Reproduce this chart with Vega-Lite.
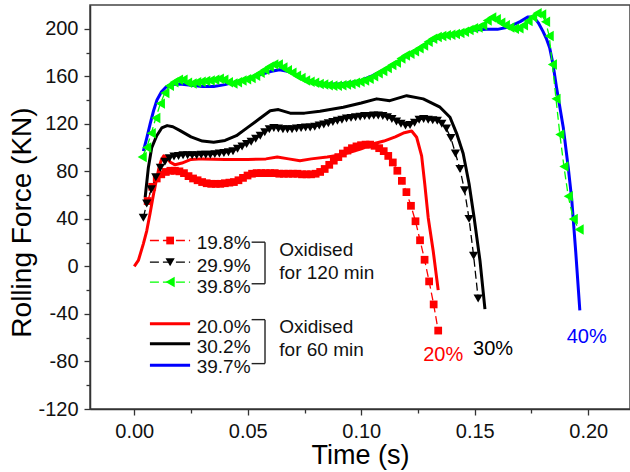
{
  "$schema": "https://vega.github.io/schema/vega-lite/v6.json",
  "width": 540,
  "height": 404,
  "autosize": {"type": "none"},
  "padding": {"left": 90, "top": 5, "right": 0, "bottom": 63},
  "background": "white",
  "config": {
    "font": "Liberation Sans",
    "view": {"stroke": "#444", "strokeWidth": 1.5},
    "axis": {"grid": false, "domainColor": "#333", "domainWidth": 1.5, "tickColor": "#333", "tickWidth": 1.3, "labelColor": "#111", "labelFontSize": 20, "titleFontSize": 28, "titleFontWeight": "normal", "titleColor": "#000", "labelFont": "Liberation Sans", "titleFont": "Liberation Sans"}
  },
  "datasets": {
    "curves": [
      {"k":"s","s":"20.0%","t":0,"f":0},{"k":"s","s":"20.0%","t":0.0018,"f":5},{"k":"s","s":"20.0%","t":0.004,"f":19},{"k":"s","s":"20.0%","t":0.0055,"f":30},{"k":"s","s":"20.0%","t":0.007,"f":45},{"k":"s","s":"20.0%","t":0.0085,"f":61},{"k":"s","s":"20.0%","t":0.01,"f":75},{"k":"s","s":"20.0%","t":0.011,"f":84},{"k":"s","s":"20.0%","t":0.012,"f":90},{"k":"s","s":"20.0%","t":0.013,"f":93},{"k":"s","s":"20.0%","t":0.014,"f":92},{"k":"s","s":"20.0%","t":0.016,"f":87.5},{"k":"s","s":"20.0%","t":0.018,"f":85.5},{"k":"s","s":"20.0%","t":0.021,"f":87},{"k":"s","s":"20.0%","t":0.025,"f":90},{"k":"s","s":"20.0%","t":0.03,"f":90.5},{"k":"s","s":"20.0%","t":0.04,"f":90},{"k":"s","s":"20.0%","t":0.05,"f":90},{"k":"s","s":"20.0%","t":0.058,"f":90.5},{"k":"s","s":"20.0%","t":0.063,"f":92},{"k":"s","s":"20.0%","t":0.068,"f":90.5},{"k":"s","s":"20.0%","t":0.073,"f":89},{"k":"s","s":"20.0%","t":0.078,"f":90.5},{"k":"s","s":"20.0%","t":0.085,"f":92},{"k":"s","s":"20.0%","t":0.09,"f":93.5},{"k":"s","s":"20.0%","t":0.095,"f":96},{"k":"s","s":"20.0%","t":0.1,"f":99},{"k":"s","s":"20.0%","t":0.105,"f":103},{"k":"s","s":"20.0%","t":0.11,"f":105.5},{"k":"s","s":"20.0%","t":0.115,"f":109},{"k":"s","s":"20.0%","t":0.119,"f":112.5},{"k":"s","s":"20.0%","t":0.1222,"f":114},{"k":"s","s":"20.0%","t":0.1244,"f":108.7},{"k":"s","s":"20.0%","t":0.1266,"f":93},{"k":"s","s":"20.0%","t":0.128,"f":69},{"k":"s","s":"20.0%","t":0.1295,"f":41},{"k":"s","s":"20.0%","t":0.1317,"f":13},{"k":"s","s":"20.0%","t":0.1339,"f":-20},
      {"k":"s","s":"30.2%","t":0.0048,"f":58},{"k":"s","s":"30.2%","t":0.0062,"f":83},{"k":"s","s":"30.2%","t":0.0077,"f":100},{"k":"s","s":"30.2%","t":0.0099,"f":110},{"k":"s","s":"30.2%","t":0.0121,"f":116.5},{"k":"s","s":"30.2%","t":0.0145,"f":118.5},{"k":"s","s":"30.2%","t":0.017,"f":117.5},{"k":"s","s":"30.2%","t":0.02,"f":114.5},{"k":"s","s":"30.2%","t":0.025,"f":109},{"k":"s","s":"30.2%","t":0.03,"f":105.5},{"k":"s","s":"30.2%","t":0.035,"f":104.5},{"k":"s","s":"30.2%","t":0.04,"f":106},{"k":"s","s":"30.2%","t":0.045,"f":110},{"k":"s","s":"30.2%","t":0.05,"f":117},{"k":"s","s":"30.2%","t":0.055,"f":124},{"k":"s","s":"30.2%","t":0.0599,"f":131},{"k":"s","s":"30.2%","t":0.0635,"f":132},{"k":"s","s":"30.2%","t":0.0687,"f":129},{"k":"s","s":"30.2%","t":0.075,"f":129},{"k":"s","s":"30.2%","t":0.0818,"f":130.5},{"k":"s","s":"30.2%","t":0.0921,"f":134},{"k":"s","s":"30.2%","t":0.1,"f":137.5},{"k":"s","s":"30.2%","t":0.1068,"f":141},{"k":"s","s":"30.2%","t":0.1126,"f":139.5},{"k":"s","s":"30.2%","t":0.12,"f":143.7},{"k":"s","s":"30.2%","t":0.1273,"f":141},{"k":"s","s":"30.2%","t":0.1347,"f":134},{"k":"s","s":"30.2%","t":0.1391,"f":125.5},{"k":"s","s":"30.2%","t":0.142,"f":112},{"k":"s","s":"30.2%","t":0.1449,"f":95},{"k":"s","s":"30.2%","t":0.1475,"f":69.5},{"k":"s","s":"30.2%","t":0.1497,"f":41.4},{"k":"s","s":"30.2%","t":0.1523,"f":5},{"k":"s","s":"30.2%","t":0.1545,"f":-36},
      {"k":"s","s":"39.7%","t":0.004,"f":97},{"k":"s","s":"39.7%","t":0.0055,"f":108},{"k":"s","s":"39.7%","t":0.007,"f":120},{"k":"s","s":"39.7%","t":0.0085,"f":131},{"k":"s","s":"39.7%","t":0.01,"f":140},{"k":"s","s":"39.7%","t":0.012,"f":147},{"k":"s","s":"39.7%","t":0.014,"f":151},{"k":"s","s":"39.7%","t":0.016,"f":153},{"k":"s","s":"39.7%","t":0.02,"f":153.5},{"k":"s","s":"39.7%","t":0.025,"f":152.5},{"k":"s","s":"39.7%","t":0.03,"f":151.5},{"k":"s","s":"39.7%","t":0.035,"f":151.5},{"k":"s","s":"39.7%","t":0.04,"f":153},{"k":"s","s":"39.7%","t":0.045,"f":155.5},{"k":"s","s":"39.7%","t":0.05,"f":158},{"k":"s","s":"39.7%","t":0.055,"f":161},{"k":"s","s":"39.7%","t":0.06,"f":164},{"k":"s","s":"39.7%","t":0.064,"f":165.5},{"k":"s","s":"39.7%","t":0.068,"f":164},{"k":"s","s":"39.7%","t":0.072,"f":160.5},{"k":"s","s":"39.7%","t":0.076,"f":157},{"k":"s","s":"39.7%","t":0.08,"f":155},{"k":"s","s":"39.7%","t":0.085,"f":153.5},{"k":"s","s":"39.7%","t":0.09,"f":153.5},{"k":"s","s":"39.7%","t":0.095,"f":154.5},{"k":"s","s":"39.7%","t":0.1,"f":156.5},{"k":"s","s":"39.7%","t":0.105,"f":160.5},{"k":"s","s":"39.7%","t":0.11,"f":165.5},{"k":"s","s":"39.7%","t":0.115,"f":171},{"k":"s","s":"39.7%","t":0.12,"f":177},{"k":"s","s":"39.7%","t":0.125,"f":183},{"k":"s","s":"39.7%","t":0.13,"f":189},{"k":"s","s":"39.7%","t":0.135,"f":193},{"k":"s","s":"39.7%","t":0.14,"f":195.5},{"k":"s","s":"39.7%","t":0.145,"f":197.5},{"k":"s","s":"39.7%","t":0.15,"f":199},{"k":"s","s":"39.7%","t":0.155,"f":199.5},{"k":"s","s":"39.7%","t":0.16,"f":199.5},{"k":"s","s":"39.7%","t":0.165,"f":201.5},{"k":"s","s":"39.7%","t":0.17,"f":206},{"k":"s","s":"39.7%","t":0.1735,"f":210},{"k":"s","s":"39.7%","t":0.176,"f":210},{"k":"s","s":"39.7%","t":0.178,"f":205},{"k":"s","s":"39.7%","t":0.18,"f":198},{"k":"s","s":"39.7%","t":0.1815,"f":192},{"k":"s","s":"39.7%","t":0.183,"f":184},{"k":"s","s":"39.7%","t":0.1845,"f":170},{"k":"s","s":"39.7%","t":0.186,"f":151},{"k":"s","s":"39.7%","t":0.189,"f":117},{"k":"s","s":"39.7%","t":0.1912,"f":83},{"k":"s","s":"39.7%","t":0.1927,"f":57},{"k":"s","s":"39.7%","t":0.1945,"f":12},{"k":"s","s":"39.7%","t":0.1963,"f":-37},
      {"k":"m","s":"19.8%","t":0.0059,"f":55},{"k":"m","s":"19.8%","t":0.0079,"f":67},{"k":"m","s":"19.8%","t":0.0099,"f":74},{"k":"m","s":"19.8%","t":0.0119,"f":77.5},{"k":"m","s":"19.8%","t":0.0139,"f":79.5},{"k":"m","s":"19.8%","t":0.0159,"f":80.5},{"k":"m","s":"19.8%","t":0.0179,"f":80.5},{"k":"m","s":"19.8%","t":0.0199,"f":80},{"k":"m","s":"19.8%","t":0.0219,"f":78.5},{"k":"m","s":"19.8%","t":0.0239,"f":76},{"k":"m","s":"19.8%","t":0.0259,"f":74},{"k":"m","s":"19.8%","t":0.0279,"f":72.5},{"k":"m","s":"19.8%","t":0.0299,"f":71},{"k":"m","s":"19.8%","t":0.0319,"f":70},{"k":"m","s":"19.8%","t":0.0339,"f":69.5},{"k":"m","s":"19.8%","t":0.0359,"f":69.5},{"k":"m","s":"19.8%","t":0.0379,"f":69.5},{"k":"m","s":"19.8%","t":0.0399,"f":70},{"k":"m","s":"19.8%","t":0.0419,"f":70.5},{"k":"m","s":"19.8%","t":0.0439,"f":71},{"k":"m","s":"19.8%","t":0.0459,"f":72.5},{"k":"m","s":"19.8%","t":0.0479,"f":74.5},{"k":"m","s":"19.8%","t":0.0499,"f":76.5},{"k":"m","s":"19.8%","t":0.0519,"f":78},{"k":"m","s":"19.8%","t":0.0539,"f":78.5},{"k":"m","s":"19.8%","t":0.0559,"f":78.5},{"k":"m","s":"19.8%","t":0.0579,"f":78.5},{"k":"m","s":"19.8%","t":0.0599,"f":78.5},{"k":"m","s":"19.8%","t":0.0619,"f":78.5},{"k":"m","s":"19.8%","t":0.0639,"f":78},{"k":"m","s":"19.8%","t":0.0659,"f":78},{"k":"m","s":"19.8%","t":0.0679,"f":78},{"k":"m","s":"19.8%","t":0.0699,"f":78},{"k":"m","s":"19.8%","t":0.0719,"f":78},{"k":"m","s":"19.8%","t":0.0739,"f":77.5},{"k":"m","s":"19.8%","t":0.0759,"f":77.5},{"k":"m","s":"19.8%","t":0.0779,"f":77.5},{"k":"m","s":"19.8%","t":0.0799,"f":78},{"k":"m","s":"19.8%","t":0.0819,"f":79.5},{"k":"m","s":"19.8%","t":0.0839,"f":82},{"k":"m","s":"19.8%","t":0.0859,"f":85.5},{"k":"m","s":"19.8%","t":0.0879,"f":89},{"k":"m","s":"19.8%","t":0.0899,"f":92},{"k":"m","s":"19.8%","t":0.0919,"f":95},{"k":"m","s":"19.8%","t":0.0939,"f":97.5},{"k":"m","s":"19.8%","t":0.0959,"f":99.5},{"k":"m","s":"19.8%","t":0.0979,"f":101},{"k":"m","s":"19.8%","t":0.0999,"f":102},{"k":"m","s":"19.8%","t":0.1019,"f":102.5},{"k":"m","s":"19.8%","t":0.1039,"f":102.5},{"k":"m","s":"19.8%","t":0.1059,"f":101.5},{"k":"m","s":"19.8%","t":0.1079,"f":99.5},{"k":"m","s":"19.8%","t":0.1099,"f":97},{"k":"m","s":"19.8%","t":0.1119,"f":93},{"k":"m","s":"19.8%","t":0.1139,"f":87.5},{"k":"m","s":"19.8%","t":0.1159,"f":80.5},{"k":"m","s":"19.8%","t":0.1179,"f":72},{"k":"m","s":"19.8%","t":0.1199,"f":62.5},{"k":"m","s":"19.8%","t":0.1219,"f":51},{"k":"m","s":"19.8%","t":0.1239,"f":38},{"k":"m","s":"19.8%","t":0.1259,"f":22},{"k":"m","s":"19.8%","t":0.1279,"f":5.6},{"k":"m","s":"19.8%","t":0.1299,"f":-12.6},{"k":"m","s":"19.8%","t":0.1319,"f":-32},{"k":"m","s":"19.8%","t":0.1339,"f":-54},
      {"k":"m","s":"29.9%","t":0.004,"f":41},{"k":"m","s":"29.9%","t":0.0055,"f":53},{"k":"m","s":"29.9%","t":0.0075,"f":65},{"k":"m","s":"29.9%","t":0.0095,"f":75},{"k":"m","s":"29.9%","t":0.0115,"f":83},{"k":"m","s":"29.9%","t":0.0135,"f":88},{"k":"m","s":"29.9%","t":0.0155,"f":91},{"k":"m","s":"29.9%","t":0.0175,"f":92.5},{"k":"m","s":"29.9%","t":0.0195,"f":93},{"k":"m","s":"29.9%","t":0.0215,"f":93.5},{"k":"m","s":"29.9%","t":0.0235,"f":93.5},{"k":"m","s":"29.9%","t":0.0255,"f":93.5},{"k":"m","s":"29.9%","t":0.0275,"f":93.5},{"k":"m","s":"29.9%","t":0.0295,"f":94},{"k":"m","s":"29.9%","t":0.0315,"f":94},{"k":"m","s":"29.9%","t":0.0335,"f":94},{"k":"m","s":"29.9%","t":0.0355,"f":94.5},{"k":"m","s":"29.9%","t":0.0375,"f":95},{"k":"m","s":"29.9%","t":0.0395,"f":95.5},{"k":"m","s":"29.9%","t":0.0415,"f":96},{"k":"m","s":"29.9%","t":0.0435,"f":97},{"k":"m","s":"29.9%","t":0.0455,"f":99},{"k":"m","s":"29.9%","t":0.0475,"f":101},{"k":"m","s":"29.9%","t":0.0495,"f":103},{"k":"m","s":"29.9%","t":0.0515,"f":105},{"k":"m","s":"29.9%","t":0.0535,"f":107.5},{"k":"m","s":"29.9%","t":0.0555,"f":110},{"k":"m","s":"29.9%","t":0.0575,"f":113},{"k":"m","s":"29.9%","t":0.0595,"f":115.5},{"k":"m","s":"29.9%","t":0.0615,"f":116.5},{"k":"m","s":"29.9%","t":0.0635,"f":116},{"k":"m","s":"29.9%","t":0.0655,"f":115.5},{"k":"m","s":"29.9%","t":0.0675,"f":115.5},{"k":"m","s":"29.9%","t":0.0695,"f":115.5},{"k":"m","s":"29.9%","t":0.0715,"f":116},{"k":"m","s":"29.9%","t":0.0735,"f":116.5},{"k":"m","s":"29.9%","t":0.0755,"f":117},{"k":"m","s":"29.9%","t":0.0775,"f":117},{"k":"m","s":"29.9%","t":0.0795,"f":117.5},{"k":"m","s":"29.9%","t":0.0815,"f":118.5},{"k":"m","s":"29.9%","t":0.0835,"f":119.5},{"k":"m","s":"29.9%","t":0.0855,"f":120.5},{"k":"m","s":"29.9%","t":0.0875,"f":121.5},{"k":"m","s":"29.9%","t":0.0895,"f":122.5},{"k":"m","s":"29.9%","t":0.0915,"f":123.5},{"k":"m","s":"29.9%","t":0.0935,"f":124.5},{"k":"m","s":"29.9%","t":0.0955,"f":125},{"k":"m","s":"29.9%","t":0.0975,"f":125.5},{"k":"m","s":"29.9%","t":0.0995,"f":126},{"k":"m","s":"29.9%","t":0.1015,"f":126.5},{"k":"m","s":"29.9%","t":0.1035,"f":126.5},{"k":"m","s":"29.9%","t":0.1055,"f":127},{"k":"m","s":"29.9%","t":0.1075,"f":127},{"k":"m","s":"29.9%","t":0.1095,"f":126.5},{"k":"m","s":"29.9%","t":0.1115,"f":125.5},{"k":"m","s":"29.9%","t":0.1135,"f":124},{"k":"m","s":"29.9%","t":0.1155,"f":122},{"k":"m","s":"29.9%","t":0.1175,"f":120},{"k":"m","s":"29.9%","t":0.1195,"f":118.5},{"k":"m","s":"29.9%","t":0.1215,"f":119},{"k":"m","s":"29.9%","t":0.1235,"f":121},{"k":"m","s":"29.9%","t":0.1255,"f":123.5},{"k":"m","s":"29.9%","t":0.1275,"f":124},{"k":"m","s":"29.9%","t":0.1295,"f":123.5},{"k":"m","s":"29.9%","t":0.1315,"f":123},{"k":"m","s":"29.9%","t":0.1335,"f":122.5},{"k":"m","s":"29.9%","t":0.1355,"f":120},{"k":"m","s":"29.9%","t":0.1375,"f":116},{"k":"m","s":"29.9%","t":0.1395,"f":108},{"k":"m","s":"29.9%","t":0.1415,"f":95},{"k":"m","s":"29.9%","t":0.1435,"f":82},{"k":"m","s":"29.9%","t":0.1455,"f":64},{"k":"m","s":"29.9%","t":0.1475,"f":40},{"k":"m","s":"29.9%","t":0.1495,"f":9},{"k":"m","s":"29.9%","t":0.1515,"f":-27},
      {"k":"m","s":"39.8%","t":0.0035,"f":92},{"k":"m","s":"39.8%","t":0.0055,"f":100},{"k":"m","s":"39.8%","t":0.0075,"f":112},{"k":"m","s":"39.8%","t":0.0095,"f":125},{"k":"m","s":"39.8%","t":0.0115,"f":137},{"k":"m","s":"39.8%","t":0.0135,"f":146},{"k":"m","s":"39.8%","t":0.0155,"f":152},{"k":"m","s":"39.8%","t":0.0175,"f":155},{"k":"m","s":"39.8%","t":0.0195,"f":157},{"k":"m","s":"39.8%","t":0.0215,"f":157},{"k":"m","s":"39.8%","t":0.0235,"f":154.5},{"k":"m","s":"39.8%","t":0.0255,"f":154},{"k":"m","s":"39.8%","t":0.0275,"f":155},{"k":"m","s":"39.8%","t":0.0295,"f":155.5},{"k":"m","s":"39.8%","t":0.0315,"f":156},{"k":"m","s":"39.8%","t":0.0335,"f":156.5},{"k":"m","s":"39.8%","t":0.0355,"f":157},{"k":"m","s":"39.8%","t":0.0375,"f":158},{"k":"m","s":"39.8%","t":0.0395,"f":157},{"k":"m","s":"39.8%","t":0.0415,"f":155},{"k":"m","s":"39.8%","t":0.0435,"f":154},{"k":"m","s":"39.8%","t":0.0455,"f":155},{"k":"m","s":"39.8%","t":0.0475,"f":156.5},{"k":"m","s":"39.8%","t":0.0495,"f":157.5},{"k":"m","s":"39.8%","t":0.0515,"f":158.5},{"k":"m","s":"39.8%","t":0.0535,"f":160.5},{"k":"m","s":"39.8%","t":0.0555,"f":163},{"k":"m","s":"39.8%","t":0.0575,"f":165.5},{"k":"m","s":"39.8%","t":0.0595,"f":168},{"k":"m","s":"39.8%","t":0.0615,"f":170},{"k":"m","s":"39.8%","t":0.0635,"f":170},{"k":"m","s":"39.8%","t":0.0655,"f":167.5},{"k":"m","s":"39.8%","t":0.0675,"f":165},{"k":"m","s":"39.8%","t":0.0695,"f":163},{"k":"m","s":"39.8%","t":0.0715,"f":160.5},{"k":"m","s":"39.8%","t":0.0735,"f":158.5},{"k":"m","s":"39.8%","t":0.0755,"f":156.5},{"k":"m","s":"39.8%","t":0.0775,"f":155.5},{"k":"m","s":"39.8%","t":0.0795,"f":154.5},{"k":"m","s":"39.8%","t":0.0815,"f":153.5},{"k":"m","s":"39.8%","t":0.0835,"f":153},{"k":"m","s":"39.8%","t":0.0855,"f":152.5},{"k":"m","s":"39.8%","t":0.0875,"f":152},{"k":"m","s":"39.8%","t":0.0895,"f":152},{"k":"m","s":"39.8%","t":0.0915,"f":152.5},{"k":"m","s":"39.8%","t":0.0935,"f":153},{"k":"m","s":"39.8%","t":0.0955,"f":153.5},{"k":"m","s":"39.8%","t":0.0975,"f":154.5},{"k":"m","s":"39.8%","t":0.0995,"f":155.5},{"k":"m","s":"39.8%","t":0.1015,"f":156.5},{"k":"m","s":"39.8%","t":0.1035,"f":158},{"k":"m","s":"39.8%","t":0.1055,"f":160},{"k":"m","s":"39.8%","t":0.1075,"f":162.5},{"k":"m","s":"39.8%","t":0.1095,"f":164.5},{"k":"m","s":"39.8%","t":0.1115,"f":167},{"k":"m","s":"39.8%","t":0.1135,"f":169.5},{"k":"m","s":"39.8%","t":0.1155,"f":171.5},{"k":"m","s":"39.8%","t":0.1175,"f":175},{"k":"m","s":"39.8%","t":0.1195,"f":177.5},{"k":"m","s":"39.8%","t":0.1215,"f":179},{"k":"m","s":"39.8%","t":0.1235,"f":181},{"k":"m","s":"39.8%","t":0.1255,"f":183.5},{"k":"m","s":"39.8%","t":0.1275,"f":186},{"k":"m","s":"39.8%","t":0.1295,"f":189},{"k":"m","s":"39.8%","t":0.1315,"f":191.5},{"k":"m","s":"39.8%","t":0.1335,"f":193},{"k":"m","s":"39.8%","t":0.1355,"f":194},{"k":"m","s":"39.8%","t":0.1375,"f":194.5},{"k":"m","s":"39.8%","t":0.1395,"f":195},{"k":"m","s":"39.8%","t":0.1415,"f":195.5},{"k":"m","s":"39.8%","t":0.1435,"f":196.5},{"k":"m","s":"39.8%","t":0.1455,"f":197.5},{"k":"m","s":"39.8%","t":0.1475,"f":199},{"k":"m","s":"39.8%","t":0.1495,"f":200.5},{"k":"m","s":"39.8%","t":0.1515,"f":201},{"k":"m","s":"39.8%","t":0.1535,"f":203},{"k":"m","s":"39.8%","t":0.1555,"f":207},{"k":"m","s":"39.8%","t":0.1575,"f":209.5},{"k":"m","s":"39.8%","t":0.1595,"f":208},{"k":"m","s":"39.8%","t":0.1615,"f":205},{"k":"m","s":"39.8%","t":0.1635,"f":203},{"k":"m","s":"39.8%","t":0.1655,"f":201},{"k":"m","s":"39.8%","t":0.1675,"f":200},{"k":"m","s":"39.8%","t":0.1695,"f":200.5},{"k":"m","s":"39.8%","t":0.1715,"f":203},{"k":"m","s":"39.8%","t":0.1735,"f":206.5},{"k":"m","s":"39.8%","t":0.1755,"f":210},{"k":"m","s":"39.8%","t":0.1775,"f":213},{"k":"m","s":"39.8%","t":0.1795,"f":212},{"k":"m","s":"39.8%","t":0.1812,"f":206},{"k":"m","s":"39.8%","t":0.1828,"f":194},{"k":"m","s":"39.8%","t":0.1842,"f":170},{"k":"m","s":"39.8%","t":0.1858,"f":141},{"k":"m","s":"39.8%","t":0.1875,"f":111},{"k":"m","s":"39.8%","t":0.1893,"f":84},{"k":"m","s":"39.8%","t":0.1912,"f":59},{"k":"m","s":"39.8%","t":0.1934,"f":40},{"k":"m","s":"39.8%","t":0.196,"f":31}
    ],
    "legend": [
      {"k":"m","s":"19.8%","t":0.0069,"t2":0.0246,"tm":0.0158,"tl":0.0275,"f":21.8,"fl":19.7},
      {"k":"m","s":"29.9%","t":0.0069,"t2":0.0246,"tm":0.0158,"tl":0.0275,"f":3.6,"fl":0},
      {"k":"m","s":"39.8%","t":0.0069,"t2":0.0246,"tm":0.0158,"tl":0.0275,"f":-13.2,"fl":-17.6},
      {"k":"s","s":"20.0%","t":0.0069,"t2":0.0246,"tm":0.0158,"tl":0.0275,"f":-48.2,"fl":-51},
      {"k":"s","s":"30.2%","t":0.0069,"t2":0.0246,"tm":0.0158,"tl":0.0275,"f":-65,"fl":-67.8},
      {"k":"s","s":"39.7%","t":0.0069,"t2":0.0246,"tm":0.0158,"tl":0.0275,"f":-83.2,"fl":-84.6}
    ],
    "brackets": [
      {"t":0.0517,"t2":0.0576,"f":20.4,"f2":20.4},
      {"t":0.0576,"t2":0.0576,"f":20.4,"f2":-14.6},
      {"t":0.0517,"t2":0.0576,"f":-14.6,"f2":-14.6},
      {"t":0.0517,"t2":0.0576,"f":-44.8,"f2":-44.8},
      {"t":0.0576,"t2":0.0576,"f":-44.8,"f2":-81.8},
      {"t":0.0517,"t2":0.0576,"f":-81.8,"f2":-81.8}
    ],
    "notes": [
      {"t":0.0639,"f":13.4,"txt":"Oxidised"},
      {"t":0.0639,"f":-5.9,"txt":"for 120 min"},
      {"t":0.0639,"f":-51,"txt":"Oxidised"},
      {"t":0.0639,"f":-70.6,"txt":"for 60 min"}
    ],
    "ends": [
      {"s":"20.0%","t":0.1361,"f":-74.8,"txt":"20%"},
      {"s":"30.2%","t":0.1581,"f":-69.2,"txt":"30%"},
      {"s":"39.7%","t":0.1993,"f":-59.4,"txt":"40%"}
    ]
  },
  "encoding": {
    "x": {"field": "t", "type": "quantitative", "title": "Time (s)",
      "scale": {"domain": [-0.0195, 0.2184], "nice": false, "zero": false},
      "axis": {"values": [0, 0.025, 0.05, 0.075, 0.1, 0.125, 0.15, 0.175, 0.2], "format": ".2f",
        "labelExpr": "abs(round(datum.value*1000)) % 50 === 0 ? datum.label : ''",
        "tickSize": {"condition": {"test": "abs(round(datum.value*1000)) % 50 === 0", "value": 6}, "value": 4},
        "labelPadding": 6, "labelFontSize": 20, "titleFontSize": 27, "titleY": 54, "titleBaseline": "alphabetic"}},
    "y": {"field": "f", "type": "quantitative", "title": "Rolling Force (KN)",
      "scale": {"domain": [-120, 220], "nice": false, "zero": false},
      "axis": {"values": [-120, -100, -80, -60, -40, -20, 0, 20, 40, 60, 80, 100, 120, 140, 160, 180, 200],
        "labelExpr": "datum.value % 40 === 0 ? '' + datum.value : ''",
        "tickSize": {"condition": {"test": "datum.value % 40 === 0", "value": 6}, "value": 4},
        "labelPadding": 6, "labelFontSize": 20, "titleFontSize": 28, "titleAngle": 270, "titleAlign": "center", "titleBaseline": "middle", "titleX": -68, "titleY": 217}}
  },
  "layer": [
    {"data": {"name": "curves"}, "transform": [{"filter": "datum.k === 's'"}],
      "mark": {"type": "line", "strokeWidth": 3, "strokeJoin": "round"},
      "encoding": {"color": {"field": "s", "type": "nominal", "legend": null,
        "scale": {"domain": ["19.8%", "29.9%", "39.8%", "20.0%", "30.2%", "39.7%"], "range": ["#FF0000", "#000000", "#00FF00", "#FF0000", "#000000", "#0000FF"]}}}},
    {"data": {"name": "curves"}, "transform": [{"filter": "datum.k === 'm'"}],
      "mark": {"type": "line", "strokeWidth": 1.3, "strokeDash": [8, 4]},
      "encoding": {"color": {"field": "s", "type": "nominal", "legend": null}}},
    {"data": {"name": "curves"}, "transform": [{"filter": "datum.k === 'm'"}],
      "mark": {"type": "point", "filled": true, "opacity": 1, "strokeWidth": 0},
      "encoding": {"color": {"field": "s", "type": "nominal", "legend": null},
        "shape": {"field": "s", "type": "nominal", "legend": null, "scale": {"domain": ["19.8%", "29.9%", "39.8%"], "range": ["square", "triangle-down", "triangle-left"]}},
        "size": {"field": "s", "type": "ordinal", "legend": null, "scale": {"domain": ["19.8%", "29.9%", "39.8%"], "range": [60, 110, 115]}}}},
    {"data": {"name": "legend"}, "transform": [{"filter": "datum.k === 'm'"}],
      "mark": {"type": "rule", "strokeWidth": 1.3, "strokeDash": [9, 4]},
      "encoding": {"x2": {"field": "t2"}, "color": {"field": "s", "type": "nominal", "legend": null}}},
    {"data": {"name": "legend"}, "transform": [{"filter": "datum.k === 's'"}],
      "mark": {"type": "rule", "strokeWidth": 3},
      "encoding": {"x2": {"field": "t2"}, "color": {"field": "s", "type": "nominal", "legend": null}}},
    {"data": {"name": "legend"}, "transform": [{"filter": "datum.k === 'm'"}],
      "mark": {"type": "point", "filled": true, "opacity": 1, "strokeWidth": 0},
      "encoding": {"x": {"field": "tm", "type": "quantitative"},
        "color": {"field": "s", "type": "nominal", "legend": null},
        "shape": {"field": "s", "type": "nominal", "legend": null},
        "size": {"field": "s", "type": "ordinal", "legend": null}}},
    {"data": {"name": "legend"},
      "mark": {"type": "text", "align": "left", "baseline": "middle", "fontSize": 19, "color": "#111"},
      "encoding": {"x": {"field": "tl", "type": "quantitative"}, "y": {"field": "fl", "type": "quantitative"}, "text": {"field": "s"}}},
    {"data": {"name": "brackets"},
      "mark": {"type": "rule", "strokeWidth": 1.4, "color": "#222"},
      "encoding": {"x2": {"field": "t2"}, "y2": {"field": "f2"}}},
    {"data": {"name": "notes"},
      "mark": {"type": "text", "align": "left", "baseline": "middle", "fontSize": 19, "color": "#111"},
      "encoding": {"text": {"field": "txt"}}},
    {"data": {"name": "ends"},
      "mark": {"type": "text", "align": "center", "baseline": "middle", "fontSize": 20},
      "encoding": {"text": {"field": "txt"}, "color": {"field": "s", "type": "nominal", "legend": null}}}
  ]
}
